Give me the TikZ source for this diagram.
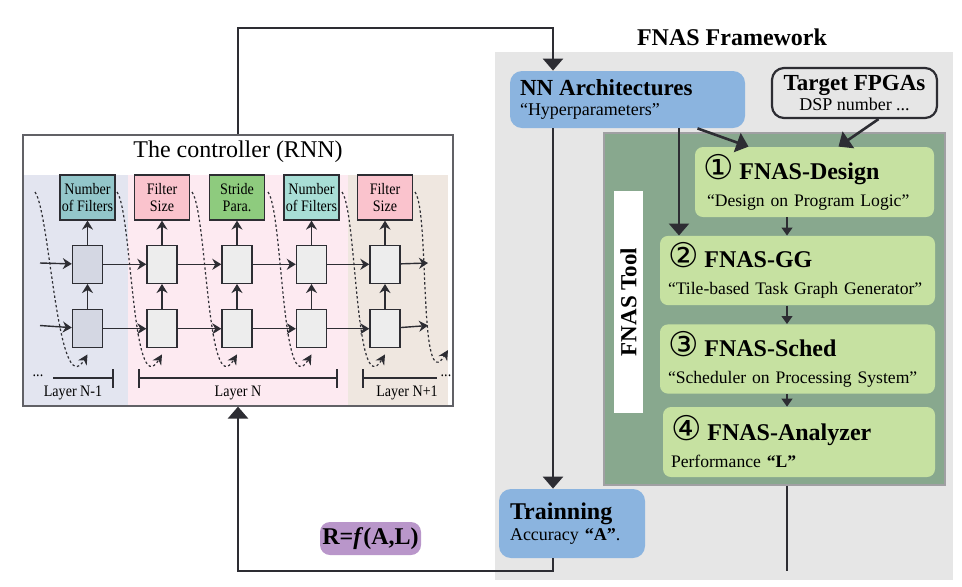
\documentclass[tikz,border=0pt]{standalone}
\usepackage{fontspec}
\setmainfont{Liberation Serif}
\newfontfamily\circfont{DejaVu Sans}
\newfontfamily\narrowfont[FakeStretch=0.88]{Liberation Serif}
\usepackage{tikz}
\usetikzlibrary{arrows, arrows.meta, positioning, calc}
\usepackage{xcolor}

\definecolor{ink}{HTML}{2D2D33}
\definecolor{frame}{HTML}{E6E6E6}
\definecolor{nnblue}{HTML}{8BB4DF}
\definecolor{toolgreen}{HTML}{88A88E}
\definecolor{stagegreen}{HTML}{C6E1A1}
\definecolor{rpurple}{HTML}{B996CA}
\definecolor{bandblue}{HTML}{E3E5F0}
\definecolor{bandpink}{HTML}{FDEAF1}
\definecolor{bandtan}{HTML}{EFE7E0}
\definecolor{cellgray}{HTML}{EDEDED}
\definecolor{cellblue}{HTML}{D4D7E3}
\definecolor{tealdark}{HTML}{93C6CA}
\definecolor{teallight}{HTML}{A8DED6}
\definecolor{pinkbox}{HTML}{FAC3CD}
\definecolor{greenbox}{HTML}{8ECB7E}

\newcommand{\stagenum}[1]{{\circfont\mdseries\fontsize{17}{17}\selectfont #1}}

\begin{document}
\begin{tikzpicture}[x=0.5pt, y=-0.5pt, node distance=12pt,
  cell/.style={draw=ink, line width=0.7pt, fill=cellgray, minimum width=15pt, minimum height=19pt, inner sep=0pt},
  outbox/.style={draw=ink, line width=0.6pt, minimum width=27.5pt, minimum height=22.5pt, inner sep=0pt, align=center, font=\narrowfont\fontsize{8}{8.8}\selectfont},
  rnn/.style={-{Stealth[length=4.5pt, width=5.5pt]}, draw=ink, line width=0.7pt},
  loopback/.style={-{Stealth[length=5pt, width=5pt]}, draw=ink, line width=0.6pt, dash pattern=on 1.2pt off 1.2pt},
  flow/.style={-{Triangle[length=6pt, width=10pt]}, draw=ink, line width=1.3pt},
  link/.style={draw=ink, line width=1.3pt},
  substep/.style={-{Triangle[length=4pt, width=5.5pt]}, draw=ink, line width=0.6pt},
  stage/.style={fill=stagegreen, rounded corners=4pt, inner xsep=4pt, align=left, font=\fontsize{8.8}{13.5}\selectfont},
  layerlbl/.style={font=\narrowfont\fontsize{8}{9}\selectfont},
  tick/.style={draw=ink, line width=1pt}]

 \useasboundingbox (0,0) rectangle (962,586);

 % Backgrounds
 \fill[frame] (495,52) rectangle (953,580);
 \fill[bandblue] (24,175) rectangle (128,405);
 \fill[bandpink] (128,175) rectangle (348,405);
 \fill[bandtan] (348,175) rectangle (448,405);

 % Controller
 \node[draw=ink!75, line width=0.6pt, minimum width=215pt, minimum height=135.5pt] (controller) at (238,270.5) {};
 \node[font=\fontsize{12}{14}\selectfont] (ctitle) at (238,152) {The controller (RNN)};

 % Outputs
 \node[outbox, fill=tealdark] (o1) at (87.5,197.5) {Number\\of Filters};
 \node[outbox, fill=pinkbox] (o2) at (162,197.5) {Filter\\Size};
 \node[outbox, fill=greenbox] (o3) at (237,197.5) {Stride\\Para.};
 \node[outbox, fill=teallight] (o4) at (311.5,197.5) {Number\\of Filters};
 \node[outbox, fill=pinkbox] (o5) at (385,197.5) {Filter\\Size};

 % Cells
 \node[cell, fill=cellblue, below=of o1] (c1t) {};
 \node[cell, below=of o2] (c2t) {};
 \node[cell, below=of o3] (c3t) {};
 \node[cell, below=of o4] (c4t) {};
 \node[cell, below=of o5] (c5t) {};
 \node[cell, fill=cellblue, below=12.5pt of c1t] (c1b) {};
 \node[cell, below=12.5pt of c2t] (c2b) {};
 \node[cell, below=12.5pt of c3t] (c3b) {};
 \node[cell, below=12.5pt of c4t] (c4b) {};
 \node[cell, below=12.5pt of c5t] (c5b) {};

 \coordinate (inT) at (40,263);
 \coordinate (inB) at (40,325.5);
 \coordinate (outT) at (428,263);
 \coordinate (outB) at (428,325.5);

 % Cell arrows
 \draw[rnn] (inT) -- (c1t);
 \draw[rnn] (c1t) -- (c2t);
 \draw[rnn] (c2t) -- (c3t);
 \draw[rnn] (c3t) -- (c4t);
 \draw[rnn] (c4t) -- (c5t);
 \draw[rnn] (c5t) -- (outT);
 \draw[rnn] (inB) -- (c1b);
 \draw[rnn] (c1b) -- (c2b);
 \draw[rnn] (c2b) -- (c3b);
 \draw[rnn] (c3b) -- (c4b);
 \draw[rnn] (c4b) -- (c5b);
 \draw[rnn] (c5b) -- (outB);
 \draw[rnn] (c1b) -- (c1t);
 \draw[rnn] (c2b) -- (c2t);
 \draw[rnn] (c3b) -- (c3t);
 \draw[rnn] (c4b) -- (c4t);
 \draw[rnn] (c5b) -- (c5t);
 \draw[rnn] (c1t) -- (o1);
 \draw[rnn] (c2t) -- (o2);
 \draw[rnn] (c3t) -- (o3);
 \draw[rnn] (c4t) -- (o4);
 \draw[rnn] (c5t) -- (o5);

 % Dotted feedback into next step
 \coordinate (d1) at (35,192);
 \coordinate (d2) at (117,192);
 \coordinate (d3) at (192,192);
 \coordinate (d4) at (268,192);
 \coordinate (d5) at (342,192);
 \coordinate (d6) at (415,192);
 \coordinate (tail) at (448,350);
 \draw[loopback] (d1) .. controls +(15,20) and +(-30,50) .. ([yshift=-3pt]c1b.south);
 \draw[loopback] (d2) .. controls +(15,20) and +(-30,50) .. ([yshift=-3pt]c2b.south);
 \draw[loopback] (d3) .. controls +(15,20) and +(-30,50) .. ([yshift=-3pt]c3b.south);
 \draw[loopback] (d4) .. controls +(15,20) and +(-30,50) .. ([yshift=-3pt]c4b.south);
 \draw[loopback] (d5) .. controls +(15,20) and +(-30,50) .. ([yshift=-3pt]c5b.south);
 \draw[loopback] (d6) .. controls +(15,20) and +(-30,50) .. (tail);

 % Layers
 \node[layerlbl] (dotsL) at (38,376) {...};
 \node[layerlbl] (dotsR) at (446,376) {...};
 \draw[draw=ink, line width=0.7pt] (53,378) -- (113,378);
 \draw[tick] (113,369) -- (113,388);
 \draw[draw=ink, line width=0.7pt] (139,378) -- (337,378);
 \draw[tick] (139,369) -- (139,388);
 \draw[tick] (337,369) -- (337,388);
 \draw[draw=ink, line width=0.7pt] (363,378) -- (437,378);
 \draw[tick] (363,369) -- (363,388);
 \node[layerlbl] (lay1) at (73,393) {Layer N-1};
 \node[layerlbl] (lay2) at (238,393) {Layer N};
 \node[layerlbl] (lay3) at (407,393) {Layer N+1};

 % Framework
 \node[font=\fontsize{12}{14}\selectfont\bfseries] (fwtitle) at (732,37) {FNAS Framework};
 \node[fill=nnblue, rounded corners=6pt, minimum width=117.5pt, minimum height=28.5pt, inner xsep=5pt, text width=107.5pt, align=left, font=\fontsize{9}{10}\selectfont] (nnarch) at (627.5,99.5) {{\fontsize{11.5}{13}\selectfont\bfseries NN Architectures}\\“Hyperparameters”};
 \node[draw=ink, line width=1.1pt, fill=frame, rounded corners=6pt, minimum width=82.5pt, minimum height=25pt, inner sep=1pt, align=center, font=\fontsize{9}{10}\selectfont] (fpga) at (854.5,93) {{\fontsize{11.5}{13}\selectfont\bfseries Target FPGAs}\\DSP number ...};
 \node[fill=toolgreen, draw=ink!45, line width=0.6pt, minimum width=170.5pt, minimum height=176pt] (tool) at (774.5,309) {};
 \node[fill=white, rotate=90, minimum width=111pt, minimum height=14.5pt, inner sep=0pt, font=\fontsize{11.5}{12}\selectfont\bfseries] (toollbl) at (628.5,302) {FNAS Tool};

 % Stages
 \node[stage, minimum width=119.5pt, minimum height=35pt, text width=111.5pt] (design) at (814.5,182) {{\fontsize{12}{14}\selectfont\bfseries\stagenum{①} FNAS-Design}\\\hspace*{2pt}“Design on Program Logic”};
 \node[stage, minimum width=137.5pt, minimum height=34.5pt, text width=129.5pt] (gg) at (797.5,270.5) {{\fontsize{12}{14}\selectfont\bfseries\stagenum{②} FNAS-GG}\\\mbox{“Tile-based Task Graph Generator”}};
 \node[stage, minimum width=137.5pt, minimum height=33pt, text width=129.5pt] (sched) at (797.5,359) {{\fontsize{12}{14}\selectfont\bfseries\stagenum{③} FNAS-Sched}\\\mbox{“Scheduler on Processing System”}};
 \node[stage, minimum width=136pt, minimum height=35pt, text width=128pt] (analyzer) at (799,442) {{\fontsize{12}{14}\selectfont\bfseries\stagenum{④} FNAS-Analyzer}\\Performance \textbf{“L”}};

 \node[fill=nnblue, rounded corners=6pt, minimum width=73pt, minimum height=34.5pt, inner xsep=5.5pt, text width=62pt, align=left, font=\fontsize{9}{10.5}\selectfont] (train) at (572,523.5) {{\fontsize{12}{14}\selectfont\bfseries Trainning}\\Accuracy \textbf{“A”}.};
 \node[fill=rpurple, rounded corners=5pt, minimum width=50.5pt, minimum height=16.5pt, inner sep=1pt, font=\fontsize{12}{14}\selectfont\bfseries] (reward) at (370.5,538.5) {R=\textit{f}(A,L)};

 \coordinate (trunk) at (553,0);
 \coordinate (branch) at (679,0);
 \coordinate (stagex) at (787,0);
 \coordinate (looptop) at (553,28);
 \coordinate (loopbot) at (553,571);

 % Main arrows
 \draw[flow] (controller.north) |- (looptop) -- (trunk |- nnarch.north);
 \draw[flow] (trunk |- nnarch.south) -- (trunk |- train.north);
 \draw[flow] (branch |- nnarch.south) -- (branch |- gg.north);
 \draw[flow] ([xshift=35pt]nnarch.south) -- ([xshift=-33pt]design.north);
 \draw[flow] ([xshift=12pt]fpga.south) -- ([xshift=12pt]design.north);
 \draw[substep] (stagex |- design.south) -- (stagex |- gg.north);
 \draw[substep] (stagex |- gg.south) -- (stagex |- sched.north);
 \draw[substep] (stagex |- sched.south) -- (stagex |- analyzer.north);

 % Feedback
 \draw[flow] (trunk |- train.south) -- (loopbot) -| (controller.south);
 \draw[link] (stagex |- tool.south) -- (stagex |- loopbot);

\end{tikzpicture}
\end{document}
